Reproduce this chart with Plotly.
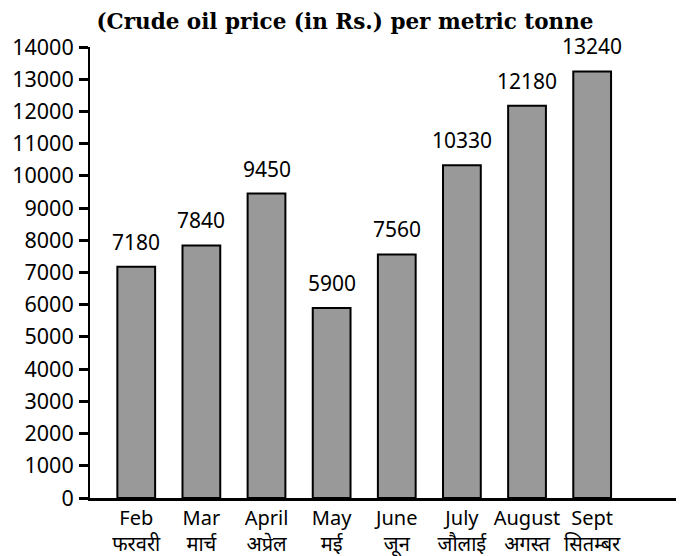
import plotly.graph_objects as go

months = ["Feb", "Mar", "April", "May", "June", "July", "August", "Sept"]
months_hindi = ["फरवरी", "मार्च", "अप्रेल", "मई", "जून", "जौलाई", "अगस्त", "सितम्बर"]
prices = [7180, 7840, 9450, 5900, 7560, 10330, 12180, 13240]
y_ticks = list(range(0, 14001, 1000))

tick_text = [f"{en}<br>{hi}" for en, hi in zip(months, months_hindi)]

fig = go.Figure(data=go.Bar(
    x=months, y=prices, width=0.58,
    marker=dict(color="#999999", line=dict(color="black", width=2)),
))

# value labels above each bar
for m, p in zip(months, prices):
    fig.add_annotation(x=m, y=p, text=str(p), showarrow=False, yanchor="bottom",
                       yshift=9, font=dict(family="Noto Sans", size=21, color="black"))

# page body has an 8px margin, so the figure is 8px smaller than the window
fig.update_layout(
    width=676, height=548,
    margin=dict(l=82, r=0, t=39, b=58, autoexpand=False),
    plot_bgcolor="white", paper_bgcolor="white",
    showlegend=False,
    title=dict(text="<b>(Crude oil price (in Rs.) per metric tonne</b>", x=0.4985, xanchor="center",
               y=0.975, yanchor="middle", automargin=False,
               font=dict(family="DejaVu Serif", size=21.5, color="black")),
    xaxis=dict(range=[-0.71, 8.41], tickvals=months, ticktext=tick_text, showline=True,
               linecolor="black", linewidth=3, ticks="", showgrid=False, automargin=False,
               tickfont=dict(family="Noto Sans", size=20, color="black")),
    yaxis=dict(range=[0, 14000], tickvals=y_ticks, ticktext=[str(v) for v in y_ticks],
               showline=True, linecolor="black", automargin=False,
               linewidth=2, ticks="outside", ticklen=9, tickwidth=3, tickcolor="black",
               ticklabelstandoff=1, showgrid=False, zeroline=False,
               tickfont=dict(family="Noto Sans", size=21.5, color="black")),
)

fig.write_html("out.html")
